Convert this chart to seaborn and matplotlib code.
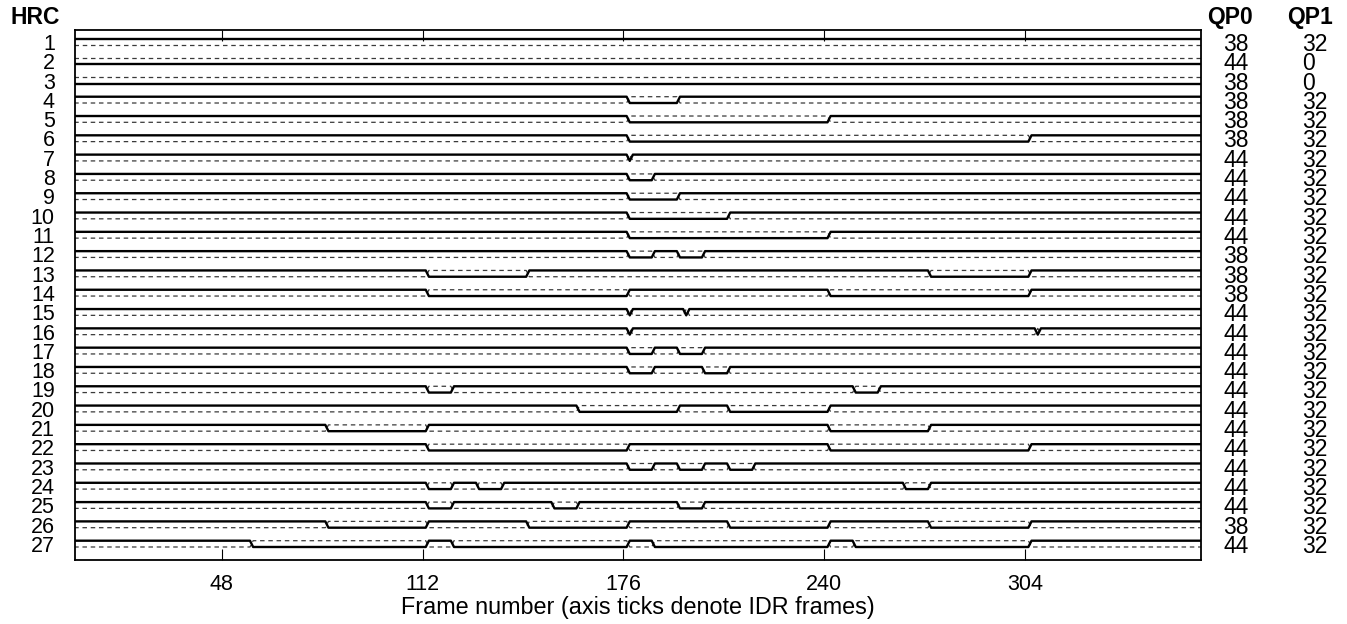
import numpy as np
import pandas as pd
import matplotlib
matplotlib.use("Agg")
import matplotlib.pyplot as plt
import matplotlib.transforms as mtransforms
import seaborn as sns

# ---------------- data ----------------
hrc_ids = list(range(1, 28))
qp0 = [38, 44, 38, 38, 38, 38, 44, 44, 44, 44, 44, 38, 38, 38,
       44, 44, 44, 44, 44, 44, 44, 44, 44, 44, 44, 38, 44]
qp1 = [32, 0, 0, 32, 32, 32, 32, 32, 32, 32, 32, 32, 32, 32,
       32, 32, 32, 32, 32, 32, 32, 32, 32, 32, 32, 32, 32]
# frames (first, last) where the solid trace is on the lower level
low_1 = []
low_2 = [(1, 360)]
low_3 = [(1, 360)]
low_4 = [(178, 193)]
low_5 = [(178, 241)]
low_6 = [(178, 305)]
low_7 = [(178, 178)]
low_8 = [(178, 185)]
low_9 = [(178, 193)]
low_10 = [(178, 209)]
low_11 = [(178, 241)]
low_12 = [(178, 185), (194, 201)]
low_13 = [(114, 145), (274, 305)]
low_14 = [(114, 177), (242, 305)]
low_15 = [(178, 178), (196, 196)]
low_16 = [(178, 178), (308, 308)]
low_17 = [(178, 185), (194, 201)]
low_18 = [(178, 185), (202, 209)]
low_19 = [(114, 121), (250, 257)]
low_20 = [(162, 193), (210, 241)]
low_21 = [(82, 113), (242, 273)]
low_22 = [(114, 177), (242, 305)]
low_23 = [(178, 185), (194, 201), (210, 217)]
low_24 = [(114, 121), (130, 137), (266, 273)]
low_25 = [(114, 121), (154, 161), (194, 201)]
low_26 = [(82, 113), (146, 177), (210, 241), (274, 305)]
low_27 = [(58, 113), (122, 177), (186, 241), (250, 305)]
low_intervals = [low_1, low_2, low_3, low_4, low_5, low_6, low_7, low_8, low_9,
                 low_10, low_11, low_12, low_13, low_14, low_15, low_16, low_17,
                 low_18, low_19, low_20, low_21, low_22, low_23, low_24, low_25,
                 low_26, low_27]
idr_ticks = [48, 112, 176, 240, 304]
frame_first, frame_last = 1, 360
x_label = "Frame number (axis ticks denote IDR frames)"

# ---------------- build traces ----------------
HALF = 0.163  # half distance between the two levels (row units)


def trace(intervals):
    """Return list of (frame, state) where state 0 = upper level, 1 = lower."""
    pts = []
    state = 0
    if intervals and intervals[0][0] <= frame_first:
        state = 1
    pts.append((frame_first, state))
    for a, b in intervals:
        if a > frame_first:
            pts.append((a - 1, 0))
            pts.append((a, 1))
        if b < frame_last:
            pts.append((b, 1))
            pts.append((b + 1, 0))
            state = 0
        else:
            state = 1
    pts.append((frame_last, state))
    return pts


rows = []
for hid, iv in zip(hrc_ids, low_intervals):
    for order, (f, s) in enumerate(trace(iv)):
        rows.append(dict(hrc=hid, frame=f, order=order,
                         solid=hid - HALF + 2 * HALF * s,
                         dashed=hid + HALF - 2 * HALF * s))
df = pd.DataFrame(rows)

# ---------------- style ----------------
sns.set_theme(style="white", rc={"text.color": "black", "axes.labelcolor": "black",
                                 "xtick.color": "black", "ytick.color": "black",
                                 "axes.edgecolor": "black"})
plt.rcParams["font.family"] = ["Liberation Sans", "DejaVu Sans"]

W, H = 1347, 624
fig = plt.figure(figsize=(W / 100, H / 100), dpi=100)
ax_l, ax_r, ax_t, ax_b = 75, 1201, 30, 560
ax = fig.add_axes([ax_l / W, 1 - ax_b / H, (ax_r - ax_l) / W, (ax_b - ax_t) / H])

sns.lineplot(data=df, x="frame", y="dashed", units="hrc", estimator=None,
             sort=False, color="#3a3a3a", linewidth=0.9, dashes=False, ax=ax,
             legend=False)
for ln in ax.lines:
    ln.set_dashes((3.6, 3.0))
sns.lineplot(data=df, x="frame", y="solid", units="hrc", estimator=None,
             sort=False, color="black", linewidth=1.7, ax=ax, legend=False)

row_px = (540.7 - 38.8) / 26.0
top_val = 1 - HALF - (38.8 - ax_t) / row_px
bot_val = top_val + (ax_b - ax_t) / row_px
ax.set_ylim(bot_val, top_val)
ax.set_xlim(1.25, 360)

ax.set_yticks(hrc_ids)
ax.set_yticklabels([str(h) for h in hrc_ids], fontsize=15.5, color="black")
ax.tick_params(axis="y", length=0, pad=14.5)
ax.set_ylabel("")

ax.set_xticks(idr_ticks)
ax.set_xticklabels([str(t) for t in idr_ticks], fontsize=15.5, color="black")
ax.tick_params(axis="x", direction="in", length=8, width=0.8, color="black",
               top=True, bottom=True, pad=10)
ax.set_xlabel(x_label, fontsize=16.8, labelpad=1, color="black")

for sp in ax.spines.values():
    sp.set_visible(True)
    sp.set_color("black")
    sp.set_linewidth(1.3)

# right side columns and headers
tr = mtransforms.blended_transform_factory(fig.transFigure, ax.transData)
for hid, a, b in zip(hrc_ids, qp0, qp1):
    ax.text(1223 / W, hid, str(a), transform=tr, ha="left", va="center_baseline",
            fontsize=16.5, clip_on=False, color="black")
    ax.text(1302 / W, hid, str(b), transform=tr, ha="left", va="center_baseline",
            fontsize=16.5, clip_on=False, color="black")

fig.text(10 / W, 1 - 17.5 / H, "HRC", ha="left", va="center",
         fontsize=16.5, fontweight="bold", color="black")
fig.text(1230 / W, 1 - 17.5 / H, "QP0", ha="center", va="center",
         fontsize=16.5, fontweight="bold", color="black")
fig.text(1310 / W, 1 - 17.5 / H, "QP1", ha="center", va="center",
         fontsize=16.5, fontweight="bold", color="black")

fig.savefig("out.png", dpi=100, facecolor="white")
